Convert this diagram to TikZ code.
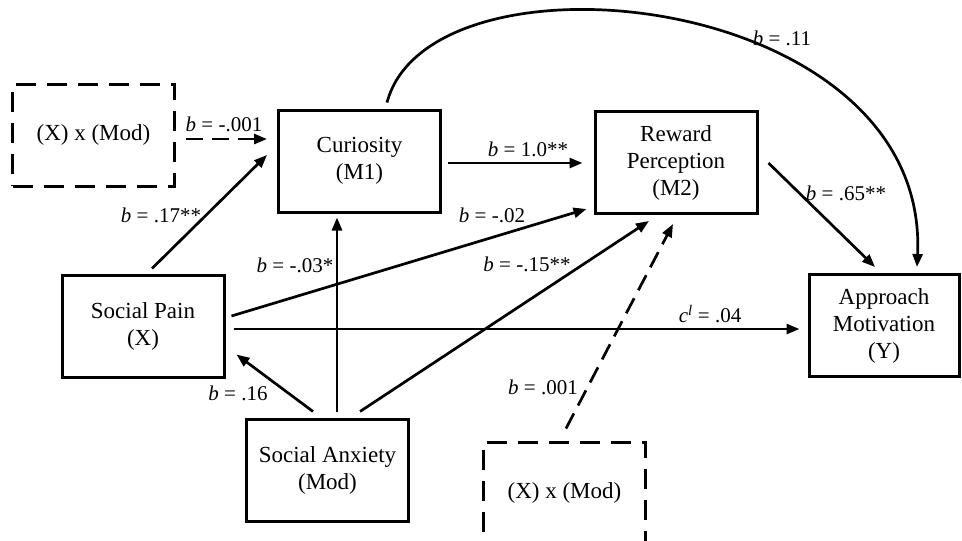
\documentclass[tikz,border=0pt]{standalone}
\usepackage{fontspec}
\setmainfont{Liberation Serif}
\usetikzlibrary{arrows.meta,calc}
\begin{document}
\begin{tikzpicture}[x=1pt,y=-1pt,
  box/.style={draw,line width=3pt,minimum width=162pt,minimum height=102pt,align=center,inner sep=0pt,
    font=\fontsize{23}{27}\selectfont},
  dbox/.style={box,dash pattern=on 20pt off 11pt},
  arr/.style={line width=2.7pt,-{Triangle[length=13pt,width=10pt]}},
  darr/.style={arr,dash pattern=on 17pt off 9pt},
  lab/.style={font=\fontsize{21}{24}\selectfont,inner sep=0pt}]
\clip (0,0) rectangle (962,541);
\fill[white] (0,0) rectangle (962,541);
% nodes
\node[dbox] (td) at (93.5,135) {(X) x (Mod)};
\node[box] (cur) at (359.5,161) {Curiosity\\(M1)};
\node[box] (rew) at (676,162.5) {Reward\\Perception\\(M2)};
\node[box] (sp) at (143,326) {Social Pain\\(X)};
\node[box] (sa) at (327.5,470) {Social Anxiety\\(Mod)};
\node[box,minimum width=150pt] (app) at (884,325.5) {Approach\\Motivation\\(Y)};
\node[dbox] (bd) at (564.5,493) {(X) x (Mod)};
% connectors
\draw[darr] ($(td.east)+(10,4)$) -- ($(cur.west)+(-10,-22)$);
\draw[arr] ($(sp.north)+(9,-5)$) -- ($(cur.west)+(-10,-6)$);
\draw[arr] ($(cur.east)+(6,2)$) -- ($(rew.west)+(-11,0.5)$);
\draw[arr] ($(sa.north)+(9.5,-6)$) -- ($(cur.south)+(-22.5,4)$);
\draw[arr] ($(sp.east)+(6,-10)$) -- ($(rew.south west)+(-7,-6)$);
\draw[arr] ($(sp.east)+(8,3)$) -- ($(app.west)+(-8,3.5)$);
\draw[arr] ($(sa.north)+(-14.5,-6)$) -- ($(sp.south east)+(11,-24)$);
\draw[arr] ($(sa.north)+(32.5,-6)$) -- ($(rew.south)+(-27,6)$);
\draw[darr] ($(bd.north)+(1.5,-12)$) -- ($(rew.south)+(-3,9)$);
\draw[arr] ($(rew.east)+(10,0.5)$) -- ($(app.north)+(-9,-6)$);
\draw[arr] ($(cur.north)+(27.5,-6)$) .. controls (430,-60) and (930,-10) .. ($(app.north)+(33,-6)$);
% labels
\node[lab] (l1) at (224,124) {\textit{b} = -.001};
\node[lab] (l2) at (161,215) {\textit{b} = .17**};
\node[lab] (l3) at (528,149) {\textit{b} = 1.0**};
\node[lab] (l4) at (492,215) {\textit{b} = -.02};
\node[lab] (l5) at (295,265) {\textit{b} = -.03*};
\node[lab] (l6) at (238,393) {\textit{b} = .16};
\node[lab] (l7) at (527,264) {\textit{b} = -.15**};
\node[lab] (l8) at (543,387) {\textit{b} = .001};
\node[lab] (l9) at (710,314) {\textit{c}\textsuperscript{\textit{l}} = .04};
\node[lab] (l10) at (846,193) {\textit{b} = .65**};
\node[lab] (l11) at (782,38) {\textit{b} = .11};
\end{tikzpicture}
\end{document}
